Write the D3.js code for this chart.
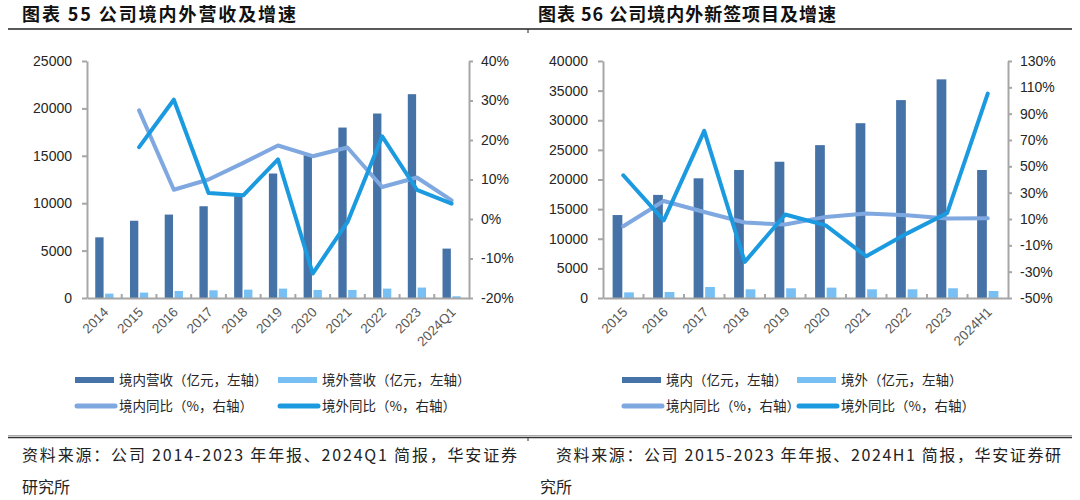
<!DOCTYPE html>
<html>
<head>
<meta charset="utf-8">
<script src="https://cdn.jsdelivr.net/npm/d3@7"></script>
<style>
  body { margin: 0; background: #fff; }
  svg { display: block; }
</style>
</head>
<body>
<svg id="chart"></svg>
<script>
// ---- data ----
const revCats = ['2014', '2015', '2016', '2017', '2018', '2019', '2020', '2021', '2022', '2023', '2024Q1'];
const revDomestic = [6400, 8150, 8800, 9680, 10840, 13130, 15060, 17980, 19460, 21500, 5210];
const revOverseas = [460, 570, 740, 810, 880, 990, 850, 850, 990, 1100, 180];
const revDomesticYoY = [null, 27.5, 7.4, 10.0, 14.2, 18.6, 15.9, 18.1, 8.1, 10.5, 4.7];
const revOverseasYoY = [null, 18.2, 30.2, 6.6, 6.0, 15.1, -13.8, -0.8, 20.9, 7.4, 3.9];
const revLeftTicks = [0, 5000, 10000, 15000, 20000, 25000];
const revRightTicks = [-20, -10, 0, 10, 20, 30, 40];

const signCats = ['2015', '2016', '2017', '2018', '2019', '2020', '2021', '2022', '2023', '2024H1'];
const signDomestic = [14000, 17400, 20200, 21600, 23000, 25800, 29500, 33400, 36900, 21600];
const signOverseas = [950, 1010, 1860, 1470, 1640, 1750, 1470, 1470, 1640, 1180];
const signDomesticYoY = [4.5, 23.7, 15.3, 7.3, 5.8, 11.6, 14.1, 12.8, 10.3, 10.5];
const signOverseasYoY = [43.2, 9.0, 76.9, -22.6, 13.4, 5.2, -18.3, -1.1, 14.6, 105.3];
const signLeftTicks = [0, 5000, 10000, 15000, 20000, 25000, 30000, 35000, 40000];
const signRightTicks = [-50, -30, -10, 10, 30, 50, 70, 90, 110, 130];

const revLegend = ['境内营收（亿元，左轴）', '境外营收（亿元，左轴）', '境内同比（%，右轴）', '境外同比（%，右轴）'];
const signLegend = ['境内（亿元，左轴）', '境外（亿元，左轴）', '境内同比（%，右轴）', '境外同比（%，右轴）'];

const C_DOM = '#4572a7';
const C_OVS = '#78c0f3';
const C_DOM_LINE = '#7fa7e0';
const C_OVS_LINE = '#1b9ae0';
const AXIS = '#a6a6a6';
const CJK = '"Noto Sans CJK SC", "Noto Sans", sans-serif';
const LATIN = '"Liberation Sans", Arial, sans-serif';

const svg = d3.select('#chart').attr('width', 1080).attr('height', 500);
svg.append('rect').attr('width', 1080).attr('height', 500).attr('fill', '#fff');

function drawPanel(opt) {
  const g = svg.append('g');
  const x = d3.scaleBand().domain(opt.cats).range([opt.x0, opt.x1]);
  const yL = d3.scaleLinear().domain(d3.extent(opt.leftTicks)).range([opt.yBottom, opt.yTop]);
  const yR = d3.scaleLinear().domain(d3.extent(opt.rightTicks)).range([opt.yBottom, opt.yTop]);
  const bw = x.bandwidth();
  const barW = bw * 0.24;
  const gap = bw * 0.045;

  // bars
  g.selectAll('.dom').data(opt.cats).join('rect')
    .attr('x', d => x(d) + bw / 2 - gap / 2 - barW)
    .attr('width', barW)
    .attr('y', (d, i) => yL(opt.dom[i]))
    .attr('height', (d, i) => yL(0) - yL(opt.dom[i]))
    .attr('fill', C_DOM);
  g.selectAll('.ovs').data(opt.cats).join('rect')
    .attr('x', d => x(d) + bw / 2 + gap / 2)
    .attr('width', barW)
    .attr('y', (d, i) => yL(opt.ovs[i]))
    .attr('height', (d, i) => yL(0) - yL(opt.ovs[i]))
    .attr('fill', C_OVS);

  // axes
  const left = g.append('g')
    .attr('transform', `translate(${opt.x0},0)`)
    .call(d3.axisLeft(yL).tickValues(opt.leftTicks).tickSize(5).tickSizeOuter(0).tickPadding(10)
      .tickFormat(d3.format('d')));
  const right = g.append('g')
    .attr('transform', `translate(${opt.x1},0)`)
    .call(d3.axisRight(yR).tickValues(opt.rightTicks).tickSize(4).tickSizeOuter(0).tickPadding(8)
      .tickFormat(d => d + '%'));
  [left, right].forEach(a => {
    a.select('.domain').attr('stroke', AXIS).attr('stroke-width', 2);
    a.selectAll('.tick line').attr('stroke', AXIS).attr('stroke-width', 2);
    a.selectAll('.tick text').attr('fill', '#262626').style('font-family', LATIN).style('font-size', '14px');
  });

  const bottom = g.append('g')
    .attr('transform', `translate(0,${opt.yBottom})`)
    .call(d3.axisBottom(x).tickSize(0).tickSizeOuter(0));
  bottom.select('.domain').attr('stroke', AXIS).attr('stroke-width', 2);
  bottom.selectAll('.tick text')
    .attr('fill', '#595959')
    .style('font-family', LATIN).style('font-size', '13.5px')
    .attr('text-anchor', 'end')
    .attr('dy', null).attr('y', 0)
    .attr('transform', `translate(5,15) rotate(-45)`);
  // small category separator ticks pointing up
  g.selectAll('.sep').data(opt.cats.slice(1)).join('line')
    .attr('x1', d => x(d)).attr('x2', d => x(d))
    .attr('y1', opt.yBottom).attr('y2', opt.yBottom - 4)
    .attr('stroke', AXIS).attr('stroke-width', 2);

  // lines
  const line = d3.line()
    .defined(d => d.v != null)
    .x(d => x(d.c) + bw / 2)
    .y(d => yR(d.v));
  [[opt.domYoY, C_DOM_LINE], [opt.ovsYoY, C_OVS_LINE]].forEach(([vals, col]) => {
    g.append('path')
      .datum(opt.cats.map((c, i) => ({ c, v: vals[i] })))
      .attr('d', line)
      .attr('fill', 'none')
      .attr('stroke', col)
      .attr('stroke-width', 4)
      .attr('stroke-linejoin', 'round')
      .attr('stroke-linecap', 'round');
  });

  // legend
  const lg = g.append('g').style('font-family', CJK).style('font-size', '13.5px');
  const items = [
    { t: opt.legend[0], col: C_DOM, bar: true, x: opt.lgX[0], y: opt.lgY[0] },
    { t: opt.legend[1], col: C_OVS, bar: true, x: opt.lgX[1], y: opt.lgY[0] },
    { t: opt.legend[2], col: C_DOM_LINE, bar: false, x: opt.lgX[0], y: opt.lgY[1] },
    { t: opt.legend[3], col: C_OVS_LINE, bar: false, x: opt.lgX[1], y: opt.lgY[1] }
  ];
  items.forEach(it => {
    if (it.bar) {
      lg.append('rect').attr('x', it.x).attr('y', it.y - 3).attr('width', 39).attr('height', 6).attr('fill', it.col);
    } else {
      lg.append('line').attr('x1', it.x + 2).attr('x2', it.x + 40).attr('y1', it.y).attr('y2', it.y)
        .attr('stroke', it.col).attr('stroke-width', 5).attr('stroke-linecap', 'round');
    }
    lg.append('text').attr('x', it.x + 44).attr('y', it.y).attr('dy', '0.36em')
      .attr('fill', '#262626').text(it.t);
  });
}

drawPanel({
  cats: revCats, dom: revDomestic, ovs: revOverseas,
  domYoY: revDomesticYoY, ovsYoY: revOverseasYoY,
  leftTicks: revLeftTicks, rightTicks: revRightTicks,
  x0: 87, x1: 469, yTop: 61, yBottom: 298,
  legend: revLegend, lgX: [75, 278], lgY: [380, 406]
});
drawPanel({
  cats: signCats, dom: signDomestic, ovs: signOverseas,
  domYoY: signDomesticYoY, ovsYoY: signOverseasYoY,
  leftTicks: signLeftTicks, rightTicks: signRightTicks,
  x0: 603, x1: 1008, yTop: 61, yBottom: 298,
  legend: signLegend, lgX: [622, 797], lgY: [380, 406]
});

// titles and rules
svg.append('text').attr('x', 22).attr('y', 21)
  .style('font-family', CJK).style('font-size', '18px').style('font-weight', 'bold')
  .attr('fill', '#111').attr('textLength', 274).attr('lengthAdjust', 'spacing')
  .text('图表 55 公司境内外营收及增速');
svg.append('text').attr('x', 538).attr('y', 21)
  .style('font-family', CJK).style('font-size', '18px').style('font-weight', 'bold')
  .attr('fill', '#111').attr('textLength', 298).attr('lengthAdjust', 'spacing')
  .text('图表 56 公司境内外新签项目及增速');
svg.append('line').attr('x1', 8).attr('x2', 1072).attr('y1', 29).attr('y2', 29)
  .attr('stroke', '#222').attr('stroke-width', 1.5);
svg.append('line').attr('x1', 528).attr('x2', 528).attr('y1', 29).attr('y2', 33)
  .attr('stroke', '#222').attr('stroke-width', 1);

svg.append('line').attr('x1', 8).attr('x2', 1072).attr('y1', 435.5).attr('y2', 435.5)
  .attr('stroke', '#aaa').attr('stroke-width', 1);
svg.append('line').attr('x1', 8).attr('x2', 1072).attr('y1', 437.5).attr('y2', 437.5)
  .attr('stroke', '#333').attr('stroke-width', 1.5);
svg.append('line').attr('x1', 528).attr('x2', 528).attr('y1', 437.5).attr('y2', 441)
  .attr('stroke', '#333').attr('stroke-width', 1);

// footers
const foot = svg.append('g').style('font-family', CJK).style('font-size', '16px').attr('fill', '#222');
foot.append('text').attr('x', 22).attr('y', 461).attr('textLength', 495).attr('lengthAdjust', 'spacing')
  .text('资料来源：公司 2014-2023 年年报、2024Q1 简报，华安证券');
foot.append('text').attr('x', 22).attr('y', 493).text('研究所');
foot.append('text').attr('x', 556).attr('y', 461).attr('textLength', 505).attr('lengthAdjust', 'spacing')
  .text('资料来源：公司 2015-2023 年年报、2024H1 简报，华安证券研');
foot.append('text').attr('x', 540).attr('y', 493).text('究所');
</script>
</body>
</html>
